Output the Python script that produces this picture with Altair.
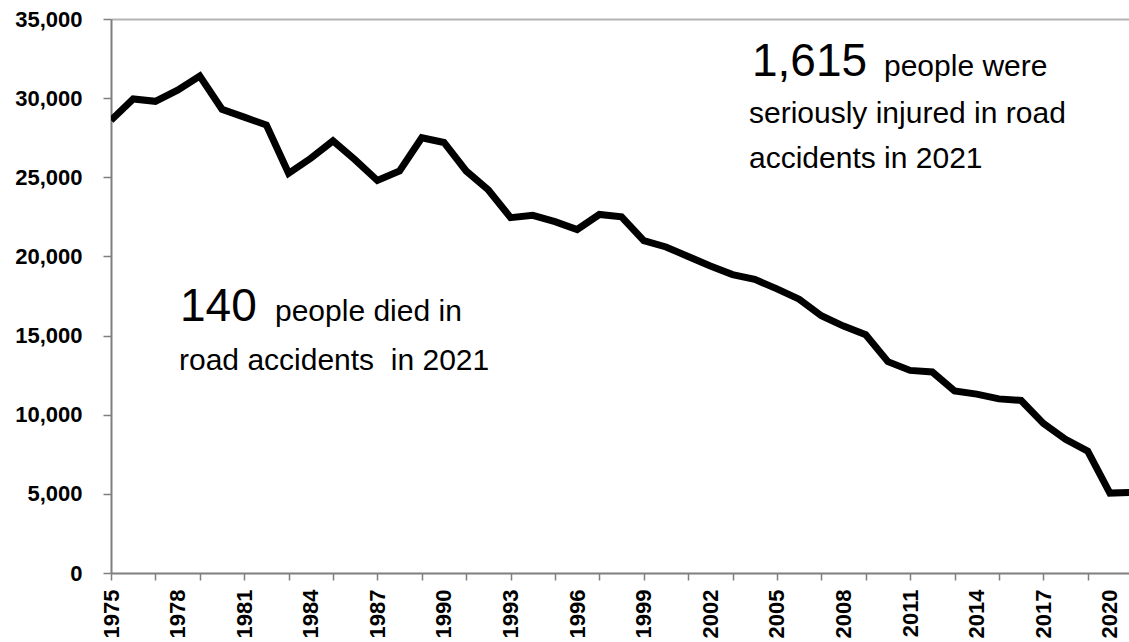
import altair as alt
import pandas as pd

# Road casualties per year, 1975-2021
YEARS = list(range(1975, 2022))
CASUALTIES = [
    28600, 29950, 29800, 30500, 31400, 29300, 28800, 28300, 25250, 26200,
    27300, 26100, 24800, 25400, 27500, 27200, 25400, 24200, 22450, 22600,
    22200, 21700, 22650, 22500, 21000, 20600, 20000, 19400, 18850, 18550,
    17950, 17300, 16250, 15600, 15050, 13350, 12800, 12700, 11500, 11300,
    11000, 10900, 9450, 8450, 7700, 5050, 5100,
]

# x axis: tick marks on odd years, labels every third year
TICK_YEARS = [1975, 1977, 1979, 1981, 1983, 1985, 1987, 1989, 1991, 1993,
              1995, 1997, 1999, 2001, 2003, 2005, 2007, 2009, 2011, 2013,
              2015, 2017, 2019, 2021]
LABEL_YEARS = [1975, 1978, 1981, 1984, 1987, 1990, 1993, 1996, 1999, 2002,
               2005, 2008, 2011, 2014, 2017, 2020]
Y_TICKS = [0, 5000, 10000, 15000, 20000, 25000, 30000, 35000]
Y_MAX = 35000

# annotation texts
KILLED_NUM = "140"
KILLED_L1 = "people died in"
KILLED_L2 = "road accidents \u00a0in 2021"
INJURED_NUM = "1,615"
INJURED_L1 = "people were"
INJURED_L2 = "seriously injured in road"
INJURED_L3 = "accidents in 2021"

FONT = "Liberation Sans"
AXIS_GREY = "#7f7f7f"

df = pd.DataFrame({"year": YEARS, "casualties": CASUALTIES})

axis_values = sorted(set(TICK_YEARS) | set(LABEL_YEARS))
label_test = " || ".join(f"datum.value == {y}" for y in LABEL_YEARS)
tick_test = "datum.value % 2 == 1"

x_scale = alt.Scale(domain=[1975, 2020.86], nice=False, zero=False)
y_scale = alt.Scale(domain=[0, Y_MAX], nice=False)

line = alt.Chart(df).mark_line(
    color="black", strokeWidth=7, strokeJoin="miter", clip=True
).encode(
    x=alt.X(
        "year:Q",
        scale=x_scale,
        title=None,
        axis=alt.Axis(
            values=axis_values,
            labelExpr=f"({label_test}) ? datum.value : ''",
            labelAngle=-90,
            labelFont=FONT,
            labelFontSize=22,
            labelFontWeight="bold",
            labelColor="black",
            labelPadding=9,
            labelOverlap=False,
            labelBound=False,
            labelFlush=False,
            tickSize=7,
            tickWidth=1.5,
            tickColor=AXIS_GREY,
            tickOpacity={"condition": {"test": tick_test, "value": 1}, "value": 0},
            domainColor=AXIS_GREY,
            domainWidth=2,
            grid=False,
        ),
    ),
    y=alt.Y(
        "casualties:Q",
        scale=y_scale,
        title=None,
        axis=alt.Axis(
            values=Y_TICKS,
            labelExpr="format(datum.value, ',')",
            labelFont=FONT,
            labelFontSize=22,
            labelFontWeight="bold",
            labelColor="black",
            labelPadding=21,
            tickSize=8,
            tickWidth=1.5,
            tickColor=AXIS_GREY,
            domainColor=AXIS_GREY,
            domainWidth=2,
            # only the top gridline is drawn, as a light frame edge
            grid=True,
            gridColor="#b4b4b4",
            gridWidth=2,
            gridOpacity={"condition": {"test": f"datum.value == {Y_MAX}", "value": 1},
                         "value": 0},
        ),
    ),
)


def label(text, x, y, size):
    return alt.Chart(pd.DataFrame({"t": [text]})).mark_text(
        align="left", baseline="alphabetic", font=FONT, fontSize=size,
        color="black",
    ).encode(text="t:N", x=alt.value(x), y=alt.value(y))


texts = [
    label(INJURED_NUM, 641, 57, 46),
    label(INJURED_L1, 773, 57, 30),
    label(INJURED_L2, 638, 104, 30),
    label(INJURED_L3, 638, 149, 30),
    label(KILLED_NUM, 69, 302, 46),
    label(KILLED_L1, 164, 302, 30),
    label(KILLED_L2, 68, 351, 30),
]

chart = alt.layer(line, *texts).properties(
    width=1018,
    height=554,
    padding={"left": 111, "top": 19, "right": 0, "bottom": 67},
    autosize=alt.AutoSizeParams(type="none"),
    background="white",
).configure_view(stroke=None)

chart.save("out.html", embed_options={"renderer": "svg", "actions": False})
